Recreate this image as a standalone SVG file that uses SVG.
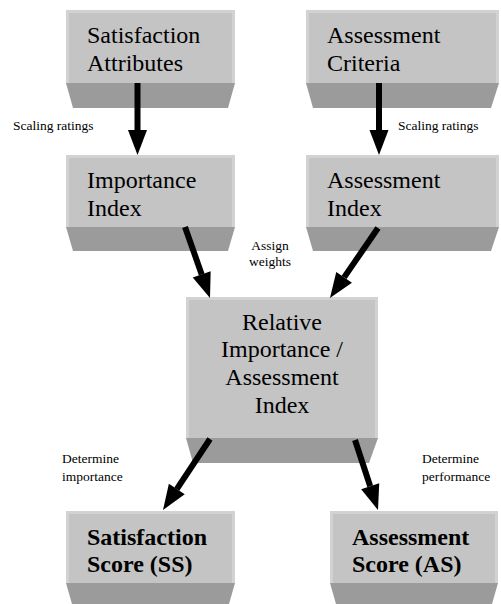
<svg xmlns="http://www.w3.org/2000/svg" width="501" height="604" viewBox="0 0 501 604">
<style>
.face{fill:#c4c4c4}
.hl{fill:#d2d2d2}
.side{fill:#9b9b9b}
.arr{stroke:#000;stroke-width:6;fill:none;marker-end:url(#ah)}
</style>
<defs>
<marker id="ah" markerUnits="userSpaceOnUse" markerWidth="26" markerHeight="20" viewBox="0 -10 26 20" refX="0" refY="0" orient="auto" overflow="visible">
<path d="M0,-9.5 L25,0 L0,9.5 Z" fill="#000"/>
</marker>
</defs>
<rect width="501" height="604" fill="#fff"/>

<g id="satisfaction-attributes">
<polygon class="side" points="66,83 235,83 228,108 73,108"/>
<rect class="face" x="66" y="10" width="169" height="73"/>
<rect class="hl" x="66" y="10" width="169" height="3"/>
<rect class="hl" x="66" y="10" width="3" height="73"/>
<rect class="hl" x="232" y="10" width="3" height="73"/>
<text x="87" y="43" font-size="24" font-family="Liberation Serif" style="font-family:'Liberation Serif',serif !important">Satisfaction</text>
<text x="87" y="71" font-size="24" font-family="Liberation Serif" style="font-family:'Liberation Serif',serif !important">Attributes</text>
</g>

<g id="assessment-criteria">
<polygon class="side" points="306,83 499,83 491,108 313,108"/>
<rect class="face" x="306" y="10" width="193" height="73"/>
<rect class="hl" x="306" y="10" width="193" height="3"/>
<rect class="hl" x="306" y="10" width="3" height="73"/>
<rect class="hl" x="496" y="10" width="3" height="73"/>
<text x="327" y="43" font-size="24" font-family="Liberation Serif" style="font-family:'Liberation Serif',serif !important">Assessment</text>
<text x="327" y="71" font-size="24" font-family="Liberation Serif" style="font-family:'Liberation Serif',serif !important">Criteria</text>
</g>

<g id="importance-index">
<polygon class="side" points="66,227 235,227 228,251 73,251"/>
<rect class="face" x="66" y="155" width="169" height="72"/>
<rect class="hl" x="66" y="155" width="169" height="3"/>
<rect class="hl" x="66" y="155" width="3" height="72"/>
<rect class="hl" x="232" y="155" width="3" height="72"/>
<text x="87" y="188" font-size="24" font-family="Liberation Serif" style="font-family:'Liberation Serif',serif !important">Importance</text>
<text x="87" y="216" font-size="24" font-family="Liberation Serif" style="font-family:'Liberation Serif',serif !important">Index</text>
</g>

<g id="assessment-index">
<polygon class="side" points="306,227 499,227 491,251 313,251"/>
<rect class="face" x="306" y="155" width="193" height="72"/>
<rect class="hl" x="306" y="155" width="193" height="3"/>
<rect class="hl" x="306" y="155" width="3" height="72"/>
<rect class="hl" x="496" y="155" width="3" height="72"/>
<text x="327" y="188" font-size="24" font-family="Liberation Serif" style="font-family:'Liberation Serif',serif !important">Assessment</text>
<text x="327" y="216" font-size="24" font-family="Liberation Serif" style="font-family:'Liberation Serif',serif !important">Index</text>
</g>

<g id="relative-index">
<polygon class="side" points="186,438 378,438 369,463 193,463"/>
<rect class="face" x="186" y="297" width="192" height="141"/>
<rect class="hl" x="186" y="297" width="192" height="3"/>
<rect class="hl" x="186" y="297" width="3" height="141"/>
<rect class="hl" x="375" y="297" width="3" height="141"/>
<text x="282" y="330" font-size="24" text-anchor="middle" font-family="Liberation Serif" style="font-family:'Liberation Serif',serif !important">Relative</text>
<text x="282" y="357" font-size="24" text-anchor="middle" font-family="Liberation Serif" style="font-family:'Liberation Serif',serif !important">Importance /</text>
<text x="282" y="385" font-size="24" text-anchor="middle" font-family="Liberation Serif" style="font-family:'Liberation Serif',serif !important">Assessment</text>
<text x="282" y="413" font-size="24" text-anchor="middle" font-family="Liberation Serif" style="font-family:'Liberation Serif',serif !important">Index</text>
</g>

<g id="satisfaction-score">
<polygon class="side" points="66,583 235,583 229,604 72,604"/>
<rect class="face" x="66" y="511" width="169" height="72"/>
<rect class="hl" x="66" y="511" width="169" height="3"/>
<rect class="hl" x="66" y="511" width="3" height="72"/>
<rect class="hl" x="232" y="511" width="3" height="72"/>
<text x="87" y="545" font-size="24" font-weight="bold" font-family="Liberation Serif" style="font-family:'Liberation Serif',serif !important">Satisfaction</text>
<text x="87" y="572" font-size="24" font-weight="bold" font-family="Liberation Serif" style="font-family:'Liberation Serif',serif !important">Score (SS)</text>
</g>

<g id="assessment-score">
<polygon class="side" points="330,583 498,583 492,604 336,604"/>
<rect class="face" x="330" y="511" width="168" height="72"/>
<rect class="hl" x="330" y="511" width="168" height="3"/>
<rect class="hl" x="330" y="511" width="3" height="72"/>
<rect class="hl" x="495" y="511" width="3" height="72"/>
<text x="352" y="545" font-size="24" font-weight="bold" font-family="Liberation Serif" style="font-family:'Liberation Serif',serif !important">Assessment</text>
<text x="352" y="572" font-size="24" font-weight="bold" font-family="Liberation Serif" style="font-family:'Liberation Serif',serif !important">Score (AS)</text>
</g>

<g id="connectors">
<line class="arr" x1="137.5" y1="83" x2="137.5" y2="130"/>
<line class="arr" x1="379" y1="83" x2="379" y2="130"/>
<line class="arr" x1="185" y1="227" x2="201.7" y2="274.4"/>
<line class="arr" x1="378" y1="228" x2="344.1" y2="277.4"/>
<line class="arr" x1="210" y1="439" x2="176.8" y2="489.1"/>
<line class="arr" x1="355" y1="440" x2="370.2" y2="486.3"/>
<text x="13" y="130" font-size="13.5" font-family="Liberation Serif" style="font-family:'Liberation Serif',serif !important">Scaling ratings</text>
<text x="398" y="130" font-size="13.5" font-family="Liberation Serif" style="font-family:'Liberation Serif',serif !important">Scaling ratings</text>
<text x="270" y="250" font-size="13.5" text-anchor="middle" font-family="Liberation Serif" style="font-family:'Liberation Serif',serif !important">Assign</text>
<text x="270" y="266" font-size="13.5" text-anchor="middle" font-family="Liberation Serif" style="font-family:'Liberation Serif',serif !important">weights</text>
<text x="62" y="463" font-size="13.5" font-family="Liberation Serif" style="font-family:'Liberation Serif',serif !important">Determine</text>
<text x="62" y="481" font-size="13.5" font-family="Liberation Serif" style="font-family:'Liberation Serif',serif !important">importance</text>
<text x="422" y="463" font-size="13.5" font-family="Liberation Serif" style="font-family:'Liberation Serif',serif !important">Determine</text>
<text x="422" y="481" font-size="13.5" font-family="Liberation Serif" style="font-family:'Liberation Serif',serif !important">performance</text>
</g>
</svg>
